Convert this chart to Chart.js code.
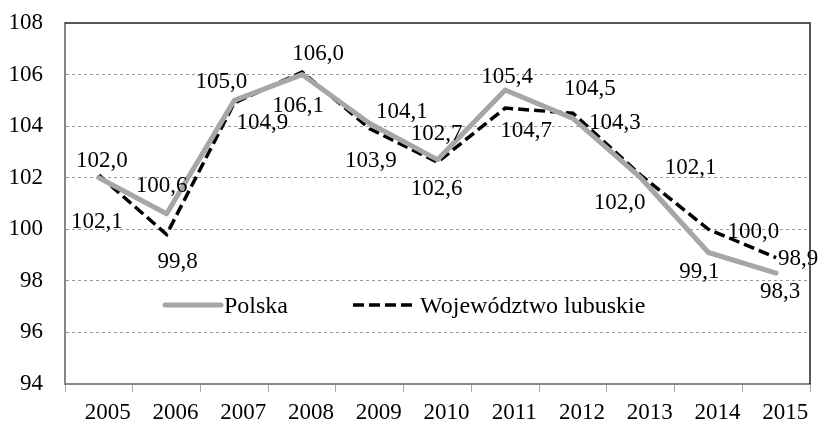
<!DOCTYPE html>
<html>
<head>
<meta charset="utf-8">
<script src="https://cdn.jsdelivr.net/npm/chart.js@4.4.0/dist/chart.umd.min.js"></script>
<style>
    body { margin: 0; background: #fff; }
    #wrap { width: 820px; height: 422px; }
</style>
</head>
<body>
<div id="wrap"><canvas id="line-chart"></canvas></div>
<script>
// dane
var years = ["2005", "2006", "2007", "2008", "2009", "2010", "2011", "2012", "2013", "2014", "2015"];
var polska = [102.0, 100.6, 105.0, 106.0, 104.1, 102.7, 105.4, 104.3, 102.0, 99.1, 98.3];
var lubuskie = [102.1, 99.8, 104.9, 106.1, 103.9, 102.6, 104.7, 104.5, 102.1, 100.0, 98.9];
var seriesNames = ["Polska", "Województwo lubuskie"];
var yMin = 94, yMax = 108, yStep = 2;

// przesuniecia etykiet (px) wzgledem punktu
var polskaLabelOffsets = [[3, -18], [-5, -29], [-13, -20], [16, -22], [32, -13], [-1, -27], [2, -15], [42, 3], [-21, 24], [-9, 18], [4, 17]];
var lubuskieLabelOffsets = [[-2, 45], [11, 26], [28, 19], [-4, 33], [1, 31], [-1, 25], [21, 21], [17, -26], [50, -9], [45, 1], [22, 0]];

var FONT = "'Liberation Serif', 'Times New Roman', serif";

var labelsPlugin = {
    id: 'valueLabels',
    afterDatasetsDraw: function (chart) {
        var ctx = chart.ctx;
        var offsets = [polskaLabelOffsets, lubuskieLabelOffsets];
        ctx.save();
        ctx.font = "23px " + FONT;
        ctx.fillStyle = "#000";
        ctx.textAlign = "center";
        ctx.textBaseline = "alphabetic";
        chart.data.datasets.forEach(function (ds, di) {
            var meta = chart.getDatasetMeta(di);
            meta.data.forEach(function (pt, i) {
                var off = offsets[di][i];
                var txt = ds.data[i].toFixed(1).replace(".", ",");
                ctx.fillText(txt, pt.x + off[0], pt.y + off[1] + 7.5);
            });
        });
        ctx.restore();
    }
};

var framePlugin = {
    id: 'frame',
    afterDraw: function (chart) {
        var a = chart.chartArea;
        var ctx = chart.ctx;
        ctx.save();
        // ramka gora / prawo
        ctx.strokeStyle = "#222";
        ctx.lineWidth = 1.5;
        ctx.beginPath();
        ctx.moveTo(a.left, a.top);
        ctx.lineTo(a.right, a.top);
        ctx.lineTo(a.right, a.bottom);
        ctx.stroke();

        // legenda w obszarze wykresu
        var ds = chart.data.datasets;
        var ly = 305;
        var items = [{ x1: 165, x2: 221, tx: 224 }, { x1: 353, x2: 417, tx: 420 }];
        ctx.font = "24px " + FONT;
        ctx.fillStyle = "#000";
        ctx.textAlign = "left";
        ctx.textBaseline = "alphabetic";
        ds.forEach(function (d, i) {
            var it = items[i];
            ctx.strokeStyle = d.borderColor;
            ctx.lineWidth = d.borderWidth;
            ctx.lineCap = d.borderDash.length ? "butt" : "round";
            ctx.setLineDash(d.borderDash);
            ctx.beginPath();
            ctx.moveTo(it.x1, ly);
            ctx.lineTo(it.x2, ly);
            ctx.stroke();
            ctx.setLineDash([]);
            ctx.fillText(d.label, it.tx, ly + 8);
        });
        ctx.restore();
    }
};

var ctx1 = document.getElementById("line-chart");
var myLineChart = new Chart(ctx1, {
    type: 'line',
    data: {
        labels: years,
        datasets: [
            {
                label: seriesNames[0],
                data: polska,
                borderColor: "#A6A6A6",
                borderWidth: 5,
                borderDash: [],
                borderJoinStyle: "round",
                borderCapStyle: "round",
                pointRadius: 0,
                tension: 0,
                fill: false
            },
            {
                label: seriesNames[1],
                data: lubuskie,
                borderColor: "#000000",
                borderWidth: 3.5,
                borderDash: [11, 5],
                borderJoinStyle: "miter",
                pointRadius: 0,
                tension: 0,
                fill: false
            }
        ]
    },
    options: {
        responsive: true,
        maintainAspectRatio: false,
        animation: false,
        layout: {
            padding: { top: 23, right: 10, left: 0, bottom: 0 }
        },
        plugins: {
            legend: { display: false },
            tooltip: { enabled: false }
        },
        scales: {
            x: {
                offset: true,
                grid: {
                    offset: true,
                    drawOnChartArea: false,
                    drawTicks: true,
                    tickLength: 8,
                    tickColor: "#A6A6A6",
                    tickWidth: 1
                },
                border: { color: "#868686", width: 2 },
                ticks: {
                    color: "#000",
                    font: { family: FONT, size: 23 },
                    padding: 7,
                    labelOffset: 9,
                    maxRotation: 0,
                    autoSkip: false
                },
                afterFit: function (scale) { scale.height = 38; }
            },
            y: {
                min: yMin,
                max: yMax,
                grid: {
                    drawTicks: true,
                    tickLength: 22,
                    tickColor: "rgba(0,0,0,0)",
                    color: function (c) {
                        var v = c.tick ? c.tick.value : 0;
                        return (v === yMin || v === yMax) ? "rgba(0,0,0,0)" : "#9A9A9A";
                    },
                    lineWidth: 1
                },
                border: { color: "#868686", width: 2, dash: [3, 3], dashOffset: 0 },
                ticks: {
                    stepSize: yStep,
                    color: "#000",
                    font: { family: FONT, size: 23 },
                    padding: 0
                },
                afterFit: function (scale) { scale.width = 65; }
            }
        }
    },
    plugins: [labelsPlugin, framePlugin]
});
</script>
</body>
</html>
